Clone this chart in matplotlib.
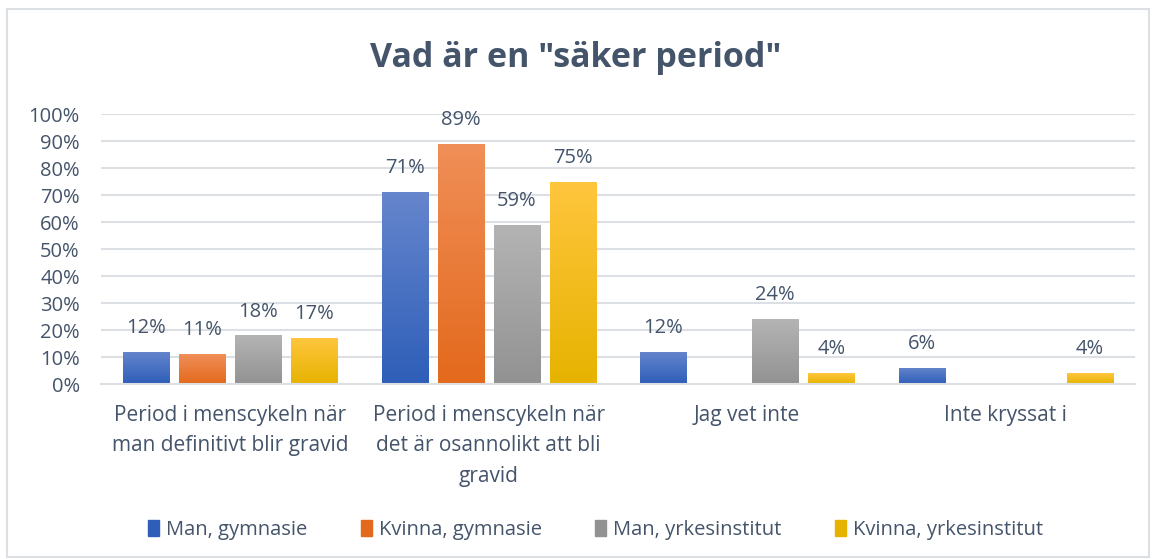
import numpy as np
import matplotlib.pyplot as plt
from matplotlib.colors import LinearSegmentedColormap
from matplotlib.patches import Rectangle

categories = ["Period i menscykeln när\nman definitivt blir gravid",
              "Period i menscykeln när\ndet är osannolikt att bli\ngravid",
              "Jag vet inte",
              "Inte kryssat i"]
series_names = ["Man, gymnasie", "Kvinna, gymnasie", "Man, yrkesinstitut", "Kvinna, yrkesinstitut"]
man_gym = [12, 71, 12, 6]
kvinna_gym = [11, 89, np.nan, np.nan]
man_yrk = [18, 59, 24, np.nan]
kvinna_yrk = [17, 75, 4, 4]
yticks = list(range(0, 101, 10))

# (top colour, bottom colour) for the gradient fill
colors = [("#6686cd", "#2e5eb8"),
          ("#f08f58", "#e3691c"),
          ("#b4b4b4", "#929292"),
          ("#ffc63e", "#e6b300")]
text_col = "#44546A"
grid_col = "#dcdfe4"
font = "Open Sans"

plt.rcParams['font.family'] = [font, 'DejaVu Sans']

fig = plt.figure(figsize=(11.52, 5.59), dpi=100)
fig.patches.append(Rectangle((7 / 1152, 2 / 559), 1142 / 1152, 548 / 559,
                             transform=fig.transFigure, fill=False,
                             edgecolor=grid_col, linewidth=1.5))

ax = fig.add_axes([0.0874, 0.313, 0.898, 0.483])

data = [man_gym, kvinna_gym, man_yrk, kvinna_yrk]
x = np.arange(len(categories))
w = 0.178
step = 0.2165

for i, vals in enumerate(data):
    xs = x + (i - 1.5) * step
    vals = np.array(vals, dtype=float)
    bars = ax.bar(xs, np.nan_to_num(vals), width=w, color=colors[i][1],
                  label=series_names[i], zorder=2)
    cmap = LinearSegmentedColormap.from_list("g%d" % i, [colors[i][1], colors[i][0]])
    for b, v in zip(bars, vals):
        if np.isnan(v):
            b.set_visible(False)
            continue
        bx, bw = b.get_x(), b.get_width()
        grad = np.linspace(0, 1, 256).reshape(-1, 1)
        im = ax.imshow(grad, cmap=cmap, origin="lower", aspect="auto",
                       extent=[bx, bx + bw, 0, v], zorder=2.5)
        im.set_clip_path(b)
        ax.text(bx + bw / 2, v + 7, "%d%%" % v, ha="center", va="baseline",
                fontsize=14.5, color=text_col)

ax.set_xlim(-0.5, 3.5)
ax.set_ylim(0, 100)
ax.set_yticks(yticks)
ax.set_yticklabels(["%d%%" % t for t in yticks], fontsize=14.5, color=text_col)
ax.set_xticks(x)
ax.set_xticklabels(categories, fontsize=15, color=text_col, linespacing=1.6,
                   va="top")
ax.tick_params(axis="both", length=0)
ax.tick_params(axis="x", pad=15)
ax.tick_params(axis="y", pad=15)
ax.grid(axis="y", color=grid_col, linewidth=1.5, zorder=0)
ax.set_axisbelow(True)
for s in ["top", "right", "left"]:
    ax.spines[s].set_visible(False)
ax.spines["bottom"].set_color(grid_col)
ax.spines["bottom"].set_linewidth(1.5)

fig.text(0.5, 0.897, 'Vad är en "säker period"', ha="center", va="center",
         fontsize=24.5, fontweight="bold", color=text_col)

handles = [Rectangle((0, 0), 1, 1, color=c[1]) for c in colors]
fig.legend(handles, series_names, loc="center", bbox_to_anchor=(0.517, 0.052),
           ncol=4, frameon=False, fontsize=14.5, labelcolor=text_col,
           handlelength=0.55, handleheight=0.8, handletextpad=0.35,
           columnspacing=2.65)

fig.savefig("out.png", dpi=100, facecolor="white")
